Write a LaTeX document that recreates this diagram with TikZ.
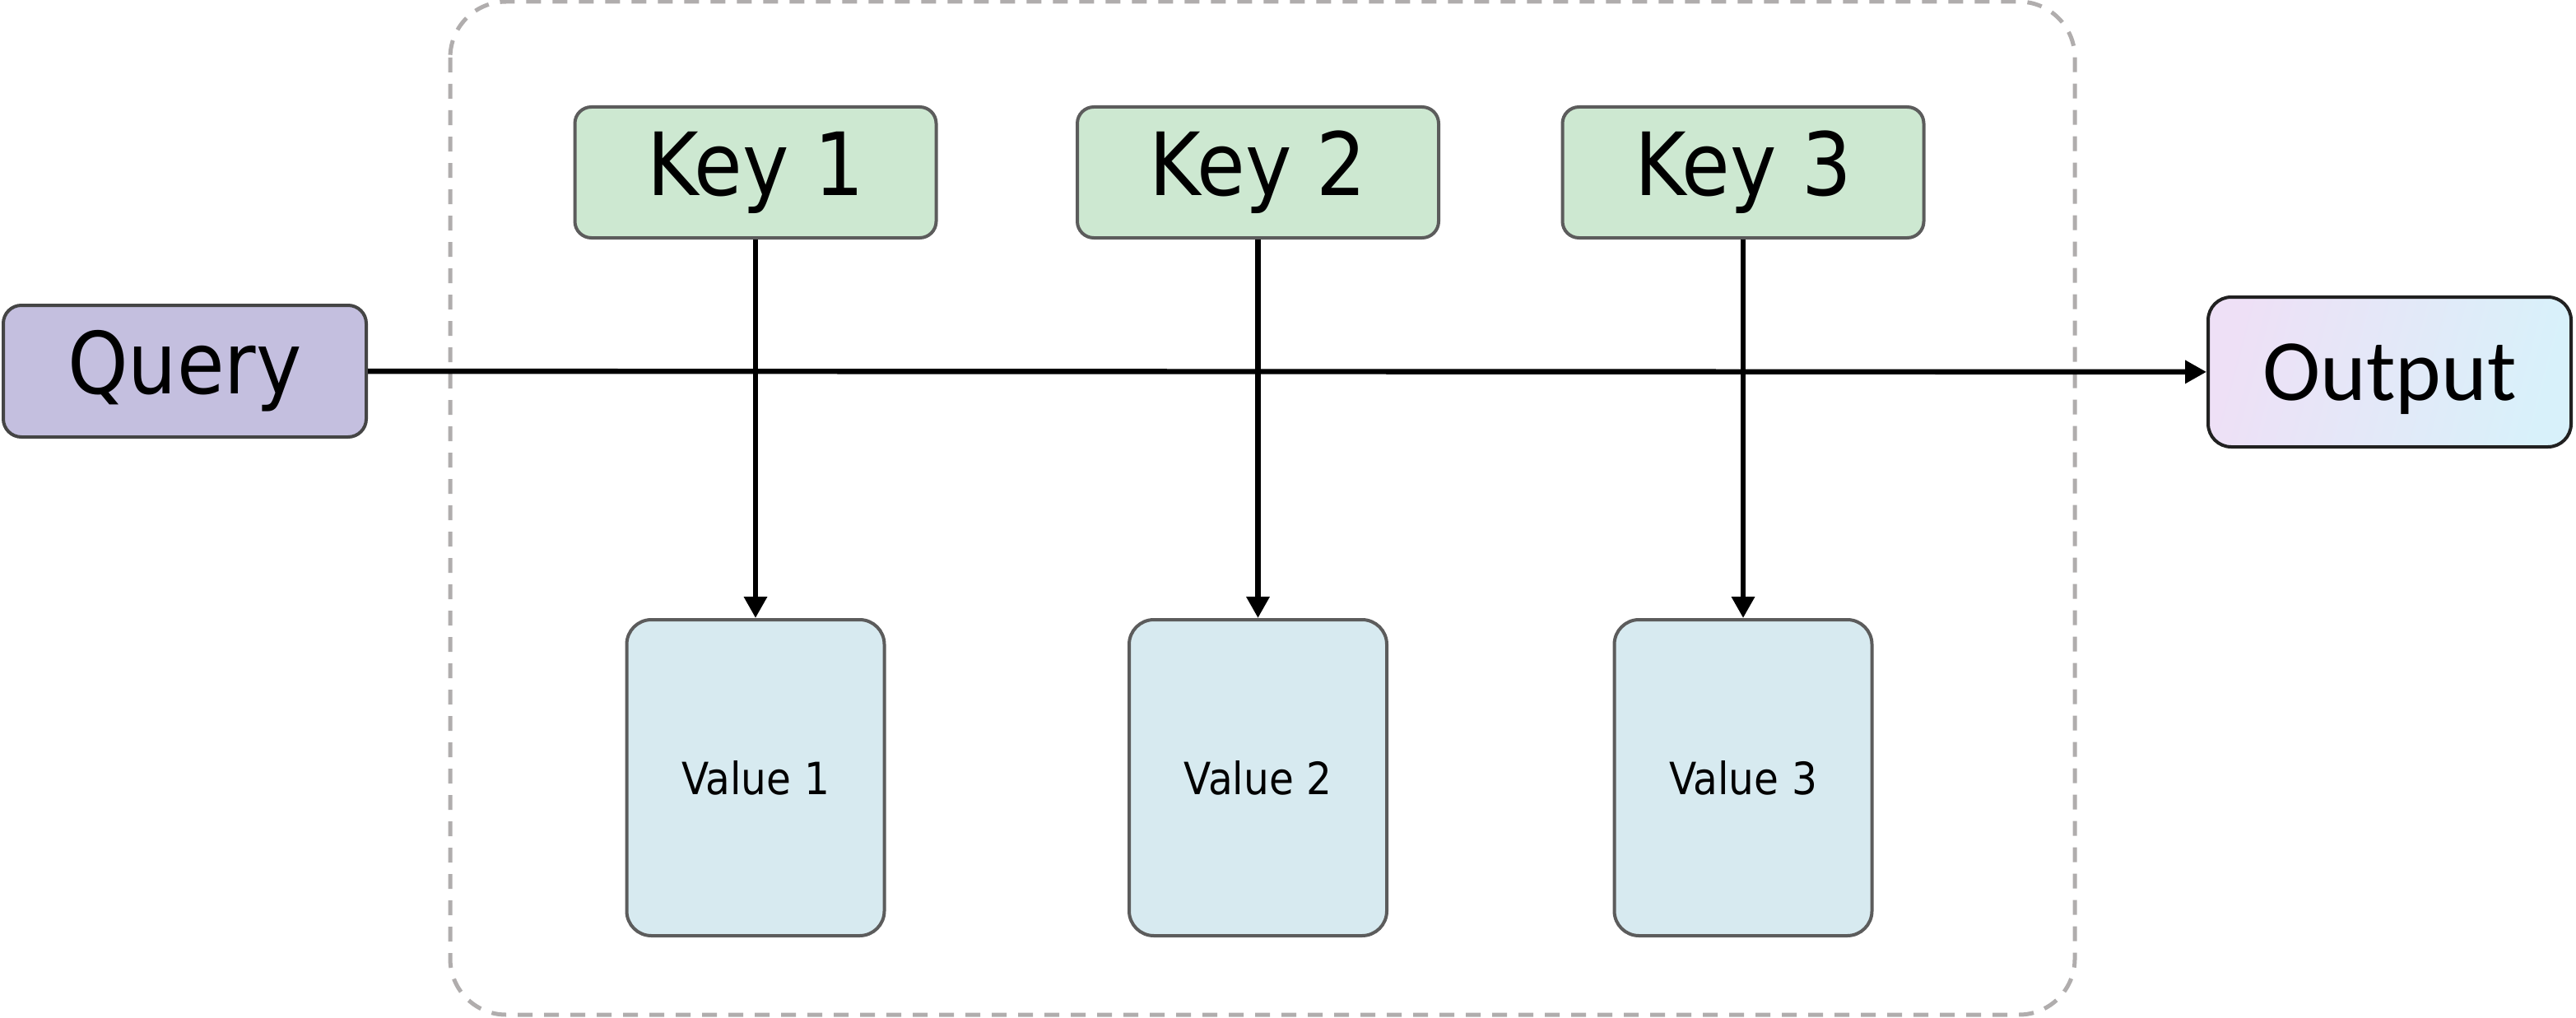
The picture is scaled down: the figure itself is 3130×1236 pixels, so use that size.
\documentclass[tikz,border=0pt]{standalone}
\usepackage{fontspec}
\setmainfont{DejaVu Sans}[FakeStretch=0.9]
\newfontfamily\outfont{Carlito}
\usepackage{xcolor}
\usetikzlibrary{positioning,arrows.meta}
\definecolor{queryfill}{HTML}{C4BFDF}
\definecolor{keyfill}{HTML}{CDE8D1}
\definecolor{valuefill}{HTML}{D7EAF0}
\definecolor{outleft}{HTML}{EEE0F6}
\definecolor{outright}{HTML}{D8F1FA}
\definecolor{boxline}{HTML}{5C5C5C}
\definecolor{dashgray}{HTML}{B0ADAD}

\begin{document}
\begin{tikzpicture}[x=0.5pt,y=-0.5pt,
    box/.style={draw=boxline, line width=2pt, inner sep=0pt},
    keybox/.style={box, fill=keyfill, rounded corners=10pt, minimum width=219.5pt, minimum height=79.5pt, font=\fontsize{53}{60}\selectfont},
    valuebox/.style={box, fill=valuefill, rounded corners=15pt, minimum width=156.5pt, minimum height=192pt, font=\fontsize{27}{32}\selectfont},
    link/.style={line width=3.2pt, -{Triangle[length=13pt,width=13.5pt]}}]
    \useasboundingbox[fill=white] (0,0) rectangle (3130,1236);

    % memory block
    \draw[dashgray, line width=2.5pt, dash pattern=on 9pt off 7pt, rounded corners=34pt] (547,2) rectangle (2521,1233);

    \node[box, draw=black!73, fill=queryfill, rounded corners=11pt, minimum width=220.5pt, minimum height=80pt,
          font=\fontsize{52}{60}\selectfont] (query) at (224.5,451) {Query};
    \node[box, draw=black!87, left color=outleft, right color=outright, shading angle=75, rounded corners=14pt,
          minimum width=220.5pt, minimum height=91pt, text depth=0pt, font=\outfont\fontsize{53}{60}\selectfont] (output) at (2903.5,452) {Output};

    \foreach \i/\x in {1/918, 2/1528.5, 3/2118} {
        \node[keybox] (key\i) at (\x,209.5) {Key \i};
        \node[valuebox] (value\i) at (\x,945) {Value \i};
    }

    \draw[link] (query) -- (output);
    \foreach \i in {1,2,3} {
        \draw[link] (key\i) -- (value\i);
    }
\end{tikzpicture}
\end{document}
